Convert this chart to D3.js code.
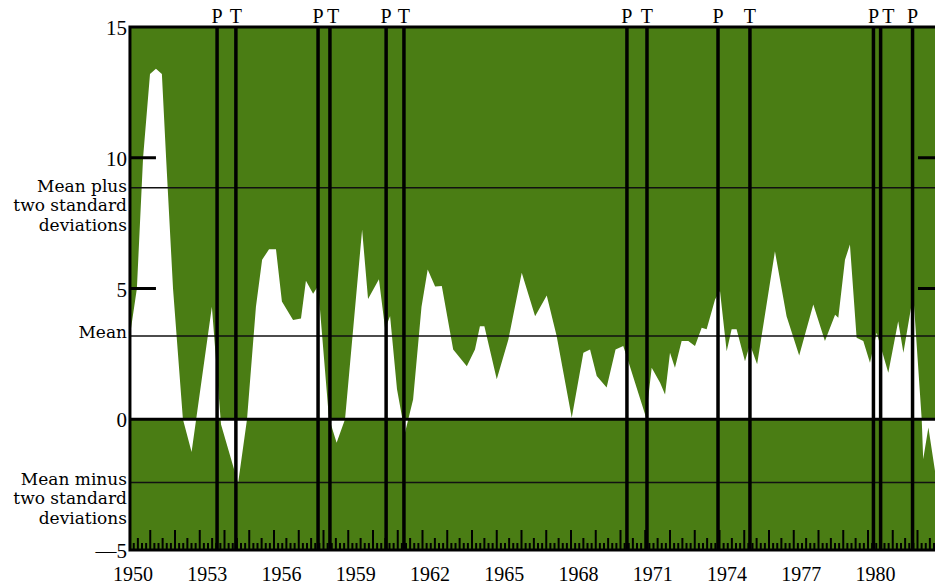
<!DOCTYPE html>
<html>
<head>
<meta charset="utf-8">
<script src="https://cdn.jsdelivr.net/npm/d3@7"></script>
<style>
  html, body { margin: 0; padding: 0; background: #fff; overflow: hidden; }
  svg { display: block; }
</style>
</head>
<body>
<div class="chart"></div>
<script>
// values (decimal year, value)
const dates = [1950.18, 1950.46, 1950.71, 1950.99, 1951.23, 1951.47, 1951.64, 1951.92, 1952.32, 1952.67,
    1953.49, 1953.86, 1954.55, 1954.91, 1955.27, 1955.52, 1955.80, 1956.08, 1956.32, 1956.77,
    1957.09, 1957.29, 1957.58, 1957.78, 1958.22, 1958.53, 1958.87, 1959.56, 1959.80, 1960.24,
    1960.49, 1960.69, 1960.97, 1961.29, 1961.62, 1961.96, 1962.21, 1962.51, 1962.78, 1963.24,
    1963.79, 1964.12, 1964.32, 1964.50, 1965.00, 1965.47, 1966.01, 1966.55, 1967.02, 1967.42,
    1968.03, 1968.50, 1968.77, 1969.04, 1969.44, 1969.80, 1970.11, 1970.32, 1971.03, 1971.26,
    1971.60, 1971.80, 1972.00, 1972.20, 1972.47, 1972.74, 1973.01, 1973.28, 1973.48, 1973.82,
    1974.02, 1974.29, 1974.49, 1974.69, 1975.03, 1975.23, 1975.52, 1976.24, 1976.71, 1977.22,
    1977.79, 1978.26, 1978.67, 1978.80, 1979.07, 1979.27, 1979.54, 1979.81, 1980.08, 1980.35,
    1980.82, 1981.22, 1981.43, 1981.83, 1982.17, 1982.23, 1982.44, 1982.71, 1982.99];
const values = [3.2, 5.0, 10.0, 13.2, 13.4, 13.2, 10.0, 5.0, 0.0, -1.25,
    4.3, -0.2, -2.45, 0.0, 4.3, 6.1, 6.5, 6.5, 4.5, 3.8,
    3.85, 5.3, 4.8, 5.1, 0.05, -0.9, 0.0, 7.25, 4.6, 5.35,
    3.45, 3.95, 1.15, -0.53, 0.76, 4.3, 5.73, 5.08, 5.1, 2.67,
    2.03, 2.67, 3.56, 3.56, 1.53, 3.05, 5.6, 3.94, 4.73, 3.18,
    0.06, 2.54, 2.67, 1.65, 1.21, 2.67, 2.8, 2.2, 0.08, 1.97,
    1.4, 0.95, 2.54, 1.97, 2.99, 2.99, 2.8, 3.5, 3.44, 4.58,
    4.9, 2.6, 3.44, 3.44, 2.22, 2.86, 2.1, 6.42, 3.94, 2.44,
    4.39, 2.99, 4.0, 3.88, 6.1, 6.68, 3.12, 2.99, 2.16, 3.31,
    1.78, 3.75, 2.54, 4.77, 0.0, -1.53, -0.32, -2.0, -1.0];

const peaks = [1953.70, 1957.78, 1960.53, 1970.26, 1973.94, 1980.22, 1981.80];
const troughs = [1954.46, 1958.26, 1961.25, 1971.07, 1975.23, 1980.51];

const yTickLabels = [15, 10, 5, 0, -5];
const sideTicks = [10, 5];
const yearLabels = [1950, 1953, 1956, 1959, 1962, 1965, 1968, 1971, 1974, 1977, 1980];

const mean = 3.18;
const meanPlus = 8.85;
const meanMinus = -2.42;
const plusText = ['Mean plus', 'two standard', 'deviations'];
const minusText = ['Mean minus', 'two standard', 'deviations'];

const green = '#4a7d14';

const draw = () => {
    const w = 935, h = 586;
    const x = d3.scaleLinear().domain([1950, 1983]).range([125.5, 942.25]);
    const y = d3.scaleLinear().domain([-5, 15]).range([550, 27]);
    const x0 = x(1950.18), x1 = x(1983.07);

    const svg = d3.select('.chart').append('svg')
        .attr('width', w)
        .attr('height', h);

    // green background of plot, white band between zero and the series
    svg.append('rect')
        .attr('x', x0).attr('y', y(15))
        .attr('width', x1 - x0).attr('height', y(-5) - y(15))
        .attr('fill', green);

    const area = d3.area()
        .x((d, i) => x(dates[i]))
        .y0(y(0))
        .y1(d => y(d));

    svg.append('path')
        .datum(values)
        .attr('fill', '#fff')
        .attr('d', area);

    // reference lines
    svg.append('g')
        .selectAll('line')
        .data([meanPlus, mean, meanMinus])
        .join('line')
        .attr('x1', x0).attr('x2', x1)
        .attr('y1', d => y(d)).attr('y2', d => y(d))
        .attr('stroke', '#111')
        .attr('stroke-width', 1.5);

    svg.append('line')
        .attr('x1', x0).attr('x2', x1)
        .attr('y1', y(0)).attr('y2', y(0))
        .attr('stroke', '#000')
        .attr('stroke-width', 3);

    // bottom ticks: years, mid-year, two-month steps
    const steps = d3.range(1, 33 * 6).map(i => ({ t: 1950 + i / 6, k: i % 6 }))
        .filter(d => x(d.t) > x0 + 2);
    svg.append('g')
        .selectAll('line')
        .data(steps)
        .join('line')
        .attr('x1', d => x(d.t)).attr('x2', d => x(d.t))
        .attr('y1', y(-5))
        .attr('y2', d => y(-5) - (d.k === 0 ? 20 : d.k === 3 ? 12 : 7))
        .attr('stroke', '#000')
        .attr('stroke-width', 2);

    // side ticks
    svg.append('g')
        .selectAll('line')
        .data(sideTicks)
        .join('line')
        .attr('x1', x0).attr('x2', x0 + 26)
        .attr('y1', d => y(d)).attr('y2', d => y(d))
        .attr('stroke', '#000').attr('stroke-width', 3);
    svg.append('g')
        .selectAll('line')
        .data(sideTicks)
        .join('line')
        .attr('x1', x1 - 26).attr('x2', x1)
        .attr('y1', d => y(d)).attr('y2', d => y(d))
        .attr('stroke', '#000').attr('stroke-width', 3);

    // peak / trough lines
    const turns = peaks.map(t => ({ t, k: 'P' }))
        .concat(troughs.map(t => ({ t, k: 'T' })))
        .sort((a, b) => a.t - b.t);

    svg.append('g')
        .selectAll('line')
        .data(turns)
        .join('line')
        .attr('x1', d => x(d.t)).attr('x2', d => x(d.t))
        .attr('y1', y(15)).attr('y2', y(-5))
        .attr('stroke', '#000')
        .attr('stroke-width', 3.5);

    turns.forEach((d, i) => {
        d.lx = x(d.t);
        const prev = turns[i - 1];
        if (prev && d.lx - prev.lx < 15) d.lx = prev.lx + 15;
    });
    svg.append('g')
        .selectAll('text')
        .data(turns)
        .join('text')
        .attr('x', d => d.lx)
        .attr('y', 23)
        .attr('text-anchor', 'middle')
        .attr('font-family', 'Liberation Serif, serif')
        .attr('font-size', 20)
        .text(d => d.k);

    // frame
    svg.append('path')
        .attr('d', `M${x1},${y(15)}H${x0}V${y(-5)}H${x1}`)
        .attr('fill', 'none')
        .attr('stroke', '#000')
        .attr('stroke-width', 3);

    // axis labels
    svg.append('g')
        .selectAll('text')
        .data(yTickLabels)
        .join('text')
        .attr('x', 127)
        .attr('y', d => y(d) + 8)
        .attr('text-anchor', 'end')
        .attr('font-family', 'Liberation Serif, serif')
        .attr('font-size', 21)
        .text(d => d < 0 ? '\u2014' + Math.abs(d) : d);

    svg.append('g')
        .selectAll('text')
        .data(yearLabels)
        .join('text')
        .attr('x', d => x(d + 0.3))
        .attr('y', 581)
        .attr('text-anchor', 'middle')
        .attr('font-family', 'Liberation Serif, serif')
        .attr('font-size', 20)
        .text(d => d);

    const block = (lines, base) => {
        svg.append('g')
            .selectAll('text')
            .data(lines)
            .join('text')
            .attr('x', 127)
            .attr('y', (d, i) => base + i * 19.5)
            .attr('text-anchor', 'end')
            .attr('font-family', 'DejaVu Serif, serif')
            .attr('font-size', 17)
            .text(d => d);
    };
    block(plusText, y(meanPlus) + 4);
    block(['Mean'], y(mean) + 2);
    block(minusText, y(meanMinus) + 2);
}

draw();
</script>
</body>
</html>
